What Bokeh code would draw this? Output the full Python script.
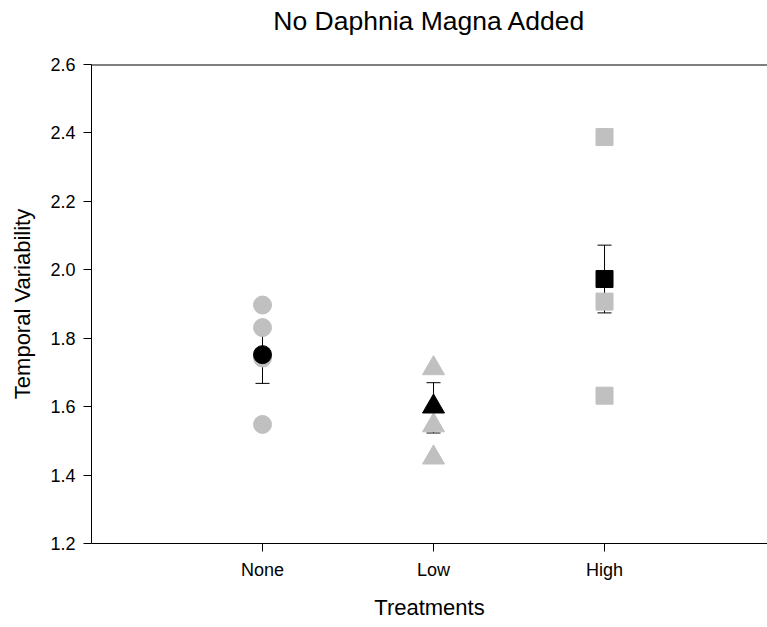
from bokeh.plotting import figure
from bokeh.models import (Range1d, FixedTicker, NumeralTickFormatter, Span, Title,
                          Whisker, ColumnDataSource, TeeHead)
from bokeh.embed import file_html
from bokeh.resources import INLINE

# Treatments and their positions on the x axis
treatments = ["None", "Low", "High"]
positions = [1, 2, 3]

# Individual replicate values per treatment
none_vals = [1.897, 1.831, 1.742, 1.548]
low_vals = [1.712, 1.545, 1.451]
high_vals = [2.388, 1.907, 1.632]

# Treatment means with error bar limits
means = [1.752, 1.600, 1.973]
err_lower = [1.668, 1.523, 1.874]
err_upper = [1.835, 1.670, 2.072]

y_ticks = [1.2, 1.4, 1.6, 1.8, 2.0, 2.2, 2.4, 2.6]

FONT = "Liberation Sans"
GREY = "#c0c0c0"

p = figure(width=767, height=627, output_backend="svg", toolbar_location=None,
           x_range=Range1d(0, 3.953), y_range=Range1d(1.2, 2.6),
           min_border_left=91, min_border_right=0, min_border_top=64,
           min_border_bottom=84, title="No Daphnia Magna Added",
           x_axis_label="Treatments", y_axis_label="Temporal Variability")

p.outline_line_color = None
p.xgrid.visible = False
p.ygrid.visible = False
p.background_fill_color = "white"
p.border_fill_color = "white"

# Blank spacer between the plotting area and the title
p.add_layout(Title(text=" ", text_font=FONT, text_font_size="22px", standoff=0),
             "above")

p.title.align = "center"
p.title.text_font = FONT
p.title.text_font_size = "26.5px"
p.title.text_font_style = "normal"
p.title.text_color = "black"
p.title.standoff = 4

for ax in (p.xaxis[0], p.yaxis[0]):
    ax.axis_line_color = "black"
    ax.axis_line_width = 1
    ax.major_tick_line_color = "black"
    ax.major_tick_in = 0
    ax.major_tick_out = 8
    ax.minor_tick_line_color = None
    ax.major_label_text_font = FONT
    ax.major_label_text_font_size = "18px"
    ax.major_label_text_color = "black"
    ax.axis_label_text_font = FONT
    ax.axis_label_text_font_size = "22px"
    ax.axis_label_text_font_style = "normal"
    ax.axis_label_text_color = "black"

p.xaxis.ticker = FixedTicker(ticks=positions)
p.xaxis.major_label_overrides = {pos: name for pos, name in zip(positions, treatments)}
p.xaxis.major_label_standoff = 8
p.xaxis.axis_label_standoff = 12

p.yaxis.ticker = FixedTicker(ticks=y_ticks)
p.yaxis.formatter = NumeralTickFormatter(format="0.0")
p.yaxis.major_label_standoff = 8
p.yaxis.axis_label_standoff = 12

# Top frame line along the upper limit of the y range
p.add_layout(Span(location=y_ticks[-1], dimension="width",
                  line_color="black", line_width=2))

# Replicate points in grey
p.scatter([positions[0]] * len(none_vals), none_vals, marker="circle",
          size=18, color=GREY)
p.scatter([positions[1]] * len(low_vals), low_vals, marker="triangle",
          size=22, color=GREY)
p.scatter([positions[2]] * len(high_vals), high_vals, marker="square",
          size=17, color=GREY)

# Error bars around the means
err_src = ColumnDataSource(data=dict(x=positions, lower=err_lower, upper=err_upper))
p.add_layout(Whisker(source=err_src, base="x", lower="lower", upper="upper",
                     line_color="black", line_width=1,
                     lower_head=TeeHead(size=14, line_color="black", line_width=1),
                     upper_head=TeeHead(size=14, line_color="black", line_width=1)))

# Treatment means in black
p.scatter([positions[0]], [means[0]], marker="circle", size=18, color="black")
p.scatter([positions[1]], [means[1]], marker="triangle", size=22, color="black")
p.scatter([positions[2]], [means[2]], marker="square", size=17, color="black")

open("out.html", "w").write(file_html(p, INLINE))
